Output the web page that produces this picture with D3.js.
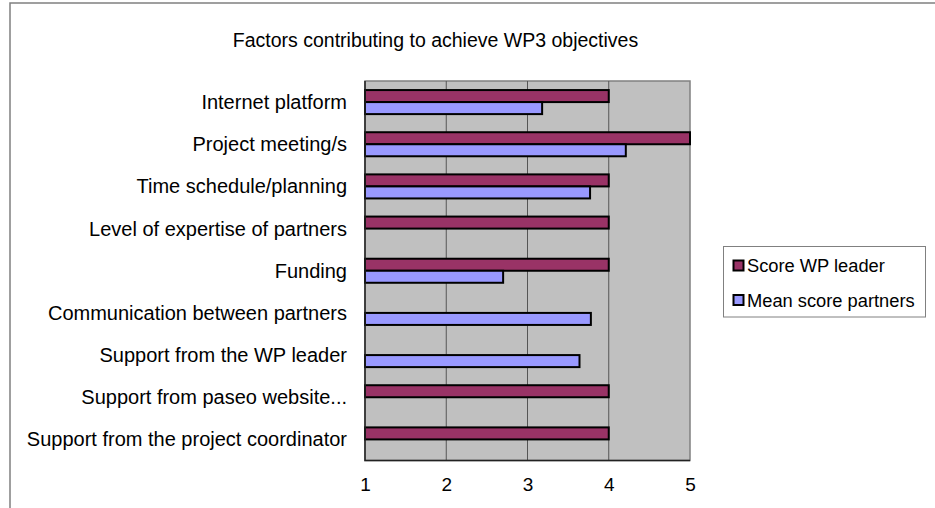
<html>
  <script src='https://d3js.org/d3.v7.min.js'></script>
  <style>
    body {margin: 0; background: white;}
    text {font-family: "Liberation Sans", Arial, sans-serif; fill: black;}
  </style>
  <body>
    <svg class="chart" width=935 height=508></svg>
    <script>
      // chart values (null = no bar)
      var categories = ["Internet platform", "Project meeting/s", "Time schedule/planning",
        "Level of expertise of partners", "Funding", "Communication between partners",
        "Support from the WP leader", "Support from paseo website...", "Support from the project coordinator"];
      var seriesNames = ["Score WP leader", "Mean score partners"];
      var leaderScores = [4, 5, 4, 4, 4, null, null, 4, 4];
      var partnerScores = [3.18, 4.21, 3.77, null, 2.70, 3.78, 3.64, null, null];
      var tickValues = [1, 2, 3, 4, 5];
      var colors = ["#993366", "#9999ff"];

      var plotLeft = 365, plotRight = 690, plotTop = 81, plotBottom = 460.5;

      var svg = d3.select('.chart');

      // outer frame (only top and left edges visible)
      svg.append("path")
        .attr("d", "M10,940 L10,3 L940,3")
        .attr("fill", "none")
        .attr("stroke", "#808080")
        .attr("stroke-width", 1.5);

      svg.append("text")
        .attr("x", 435.5).attr("y", 47)
        .attr("text-anchor", "middle")
        .style("font-size", "19.5px")
        .text("Factors contributing to achieve WP3 objectives");

      var x = d3.scaleLinear().domain([1, 5]).range([plotLeft, plotRight]);
      var y = d3.scaleBand().domain(categories).range([plotTop, plotBottom]);
      var ySub = d3.scaleBand().domain(seriesNames).range([0, y.bandwidth()]).paddingOuter(0.754);

      // plot area
      svg.append("rect")
        .attr("x", plotLeft).attr("y", plotTop)
        .attr("width", plotRight - plotLeft).attr("height", plotBottom - plotTop)
        .attr("fill", "#c0c0c0")
        .attr("stroke", "#808080")
        .attr("stroke-width", 1.5);

      svg.append("g").selectAll("line")
        .data(tickValues.slice(1, -1))
        .enter().append("line")
        .attr("x1", d => x(d)).attr("x2", d => x(d))
        .attr("y1", plotTop).attr("y2", plotBottom)
        .attr("stroke", "#555")
        .attr("stroke-width", 1);

      var rows = categories.map(function(c, i) {
        return [{cat: c, s: seriesNames[0], v: leaderScores[i], col: colors[0]},
                {cat: c, s: seriesNames[1], v: partnerScores[i], col: colors[1]}];
      }).flat().filter(d => d.v != null);

      svg.append("g").selectAll("rect")
        .data(rows)
        .enter().append("rect")
        .attr("x", x(1))
        .attr("y", d => y(d.cat) + ySub(d.s))
        .attr("width", d => x(d.v) - x(1))
        .attr("height", ySub.bandwidth())
        .attr("fill", d => d.col)
        .attr("stroke", "black")
        .attr("stroke-width", 2);

      // left and bottom axis lines
      svg.append("path")
        .attr("d", "M" + plotLeft + "," + plotTop + " L" + plotLeft + "," + plotBottom + " L" + plotRight + "," + plotBottom)
        .attr("fill", "none")
        .attr("stroke", "#222")
        .attr("stroke-width", 1.5);

      // category labels
      svg.append("g").selectAll("text")
        .data(categories)
        .enter().append("text")
        .attr("x", 347)
        .attr("y", d => y(d) + y.bandwidth() / 2 + 7)
        .attr("text-anchor", "end")
        .style("font-size", "20px")
        .text(d => d);

      // value axis labels
      var xAxis = d3.axisBottom(x).tickValues(tickValues).tickSize(0).tickPadding(0).tickFormat(d3.format("d"));
      var gx = svg.append("g")
        .attr("transform", "translate(0," + plotBottom + ")")
        .call(xAxis);
      gx.select(".domain").remove();
      gx.selectAll("text")
        .attr("dy", null)
        .attr("y", 30.5)
        .style("font-family", "'Liberation Sans', Arial, sans-serif")
        .style("font-size", "19px")
        .attr("fill", "black");

      // legend
      var legend = svg.append("g");
      legend.append("rect")
        .attr("x", 723.5).attr("y", 246.5)
        .attr("width", 202).attr("height", 70.5)
        .attr("fill", "white")
        .attr("stroke", "#808080")
        .attr("stroke-width", 1);
      var items = legend.selectAll("g.item")
        .data(seriesNames)
        .enter().append("g")
        .attr("transform", (d, i) => "translate(0," + (265.5 + i * 34.5) + ")");
      items.append("rect")
        .attr("x", 733.5).attr("y", -5)
        .attr("width", 10).attr("height", 10)
        .attr("fill", (d, i) => colors[i])
        .attr("stroke", "black")
        .attr("stroke-width", 2);
      items.append("text")
        .attr("x", 747)
        .attr("y", 6.5)
        .style("font-size", "18.3px")
        .text(d => d);
    </script>
  </body>
</html>
